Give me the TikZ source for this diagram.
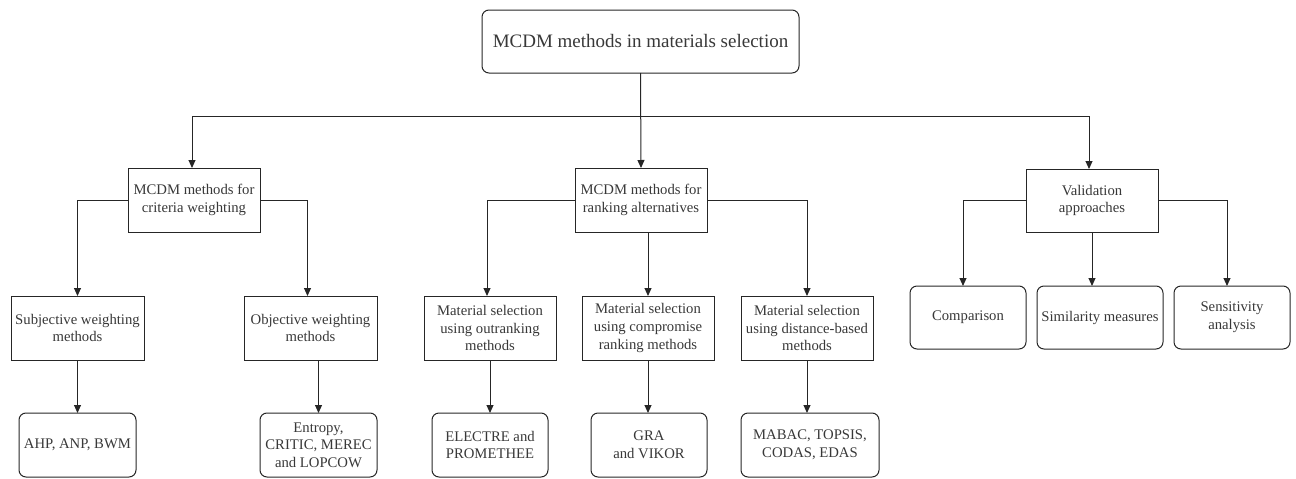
\documentclass[tikz,border=0pt]{standalone}
\usepackage{fontspec}
\setmainfont{Liberation Serif}
\usetikzlibrary{arrows.meta}
\begin{document}
\begin{tikzpicture}[x=1pt,y=-1pt,
  every node/.style={inner sep=0pt, outer sep=0pt, align=center, text=black!78,
    font=\fontsize{14.7}{17.7}\selectfont},
  sqbox/.style={draw=black!85, line width=1pt, minimum width=132pt, minimum height=64pt},
  rbox/.style={draw=black!85, line width=1pt, rounded corners=7pt, minimum width=116pt, minimum height=64pt},
  arr/.style={draw=black!85, line width=1pt, -{Triangle[length=8pt,width=7pt]}}]
\useasboundingbox (0,0) rectangle (1296,479);
% level 0
\node[rbox, minimum width=317pt, minimum height=63pt, font=\fontsize{19}{22}\selectfont] (root) at (640.5,41.5) {MCDM methods in materials selection};
% level 1
\node[sqbox] (crit) at (194,200) {MCDM methods for\\criteria weighting};
\node[sqbox] (rank) at (641,200) {MCDM methods for\\ranking alternatives};
\node[sqbox, minimum height=63pt] (valid) at (1092,200.5) {Validation\\approaches};
% level 2
\node[sqbox, minimum width=133pt] (subj) at (77.5,328) {Subjective weighting\\methods};
\node[sqbox, minimum width=133pt] (obj) at (310.5,328) {Objective weighting\\methods};
\node[sqbox] (out) at (490,328) {Material selection\\using outranking\\methods};
\node[sqbox] (comp) at (648,328) {Material selection\\using compromise\\ranking methods};
\node[sqbox] (dist) at (807,328) {Material selection\\using distance-based\\methods};
\node[rbox, minimum height=63pt] (cmp) at (968,317.5) {Comparison};
\node[rbox, minimum width=126pt, minimum height=63pt] (sim) at (1100,317.5) {Similarity measures};
\node[rbox, minimum height=63pt] (sen) at (1232,317.5) {Sensitivity\\analysis};
% level 3
\node[rbox, minimum width=117pt] (ahp) at (77.5,445) {AHP, ANP, BWM};
\node[rbox, minimum width=117pt] (ent) at (318.5,445) {Entropy,\\CRITIC, MEREC\\and LOPCOW};
\node[rbox] (ele) at (490,445) {ELECTRE and\\PROMETHEE};
\node[rbox] (gra) at (649,445) {GRA\\and VIKOR};
\node[rbox, minimum width=138pt] (mab) at (810,445) {MABAC, TOPSIS,\\CODAS, EDAS};
% connectors from root
\draw[arr] (root.south) -- (rank.north);
\draw[arr] (root.south) -- ++(0,43) -| ([xshift=-2pt]crit.north);
\draw[arr] (root.south) -- ++(0,43) -| ([xshift=-3pt]valid.north);
% criteria weighting
\draw[arr] (crit.west) -| (subj.north);
\draw[arr] (crit.east) -| ([xshift=-3pt]obj.north);
\draw[arr] (subj.south) -- (ahp.north);
\draw[arr] (obj.south -| ent.north) -- (ent.north);
% ranking
\draw[arr] (rank.west) -| ([xshift=-3pt]out.north);
\draw[arr] (rank.south -| comp.north) -- (comp.north);
\draw[arr] (rank.east) -| (dist.north);
\draw[arr] (out.south) -- (ele.north);
\draw[arr] (comp.south) -- (comp.south |- gra.north);
\draw[arr] (dist.south) -- (dist.south |- mab.north);
% validation
\draw[arr] (valid.west) -| ([xshift=-5pt]cmp.north);
\draw[arr] (valid.south) -- (valid.south |- sim.north);
\draw[arr] (valid.east) -| ([xshift=-5pt]sen.north);
\end{tikzpicture}
\end{document}
